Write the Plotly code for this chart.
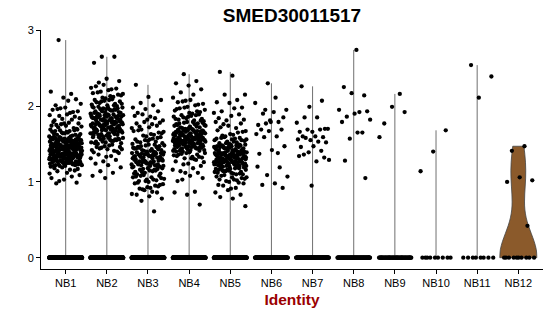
import plotly.graph_objects as go

# ---------------- data ----------------
categories = ["NB1", "NB2", "NB3", "NB4", "NB5", "NB6", "NB7", "NB8", "NB9", "NB10", "NB11", "NB12"]

# number of cells with zero expression per identity
zero_counts = [400, 350, 300, 300, 300, 150, 130, 90, 60, 9, 8, 10]

# non-zero expression values per identity
nb1 = [0.98, 0.99,
       1.03, 1.05, 1.07, 1.01, 1.09,
       1.12, 1.18, 1.15, 1.19, 1.11, 1.16, 1.14, 1.17,
       1.21, 1.26, 1.23, 1.28, 1.24, 1.29, 1.22, 1.27, 1.25, 1.20, 1.28, 1.23, 1.26, 1.29, 1.21, 1.24, 1.27, 1.22,
       1.25, 1.28, 1.26, 1.23, 1.29, 1.24, 1.21, 1.27, 1.25, 1.28, 1.22, 1.26, 1.24, 1.29, 1.27, 1.23, 1.25,
       1.31, 1.36, 1.33, 1.38, 1.35, 1.30, 1.37, 1.32, 1.39, 1.34, 1.36, 1.31, 1.38, 1.33, 1.35, 1.37, 1.30, 1.34,
       1.39, 1.32, 1.36, 1.38, 1.31, 1.35, 1.33, 1.37, 1.34, 1.39, 1.30, 1.36, 1.32, 1.38, 1.35, 1.31, 1.37, 1.33,
       1.34, 1.36, 1.39, 1.32, 1.35, 1.38, 1.30, 1.37, 1.33, 1.31, 1.36, 1.34, 1.39, 1.35, 1.32, 1.38, 1.37, 1.33,
       1.31, 1.36, 1.34, 1.35, 1.38, 1.32,
       1.41, 1.46, 1.43, 1.48, 1.45, 1.40, 1.47, 1.42, 1.49, 1.44, 1.46, 1.41, 1.48, 1.43, 1.45, 1.47, 1.40, 1.44,
       1.49, 1.42, 1.46, 1.48, 1.41, 1.45, 1.43, 1.47, 1.44, 1.49, 1.40, 1.46, 1.42, 1.48, 1.45, 1.41, 1.47, 1.43,
       1.44, 1.46, 1.49, 1.42, 1.45, 1.48, 1.40, 1.47, 1.43, 1.41, 1.46, 1.44, 1.49, 1.45, 1.42, 1.48, 1.47, 1.43,
       1.45,
       1.51, 1.56, 1.53, 1.58, 1.55, 1.50, 1.57, 1.52, 1.59, 1.54, 1.56, 1.51, 1.58, 1.53, 1.55, 1.57, 1.50, 1.54,
       1.59, 1.52, 1.56, 1.58, 1.51, 1.55, 1.53, 1.57, 1.54, 1.59, 1.52, 1.56, 1.50, 1.58, 1.55, 1.53, 1.57, 1.51,
       1.54, 1.56, 1.52, 1.55,
       1.61, 1.66, 1.63, 1.68, 1.65, 1.60, 1.67, 1.62, 1.69, 1.64, 1.66, 1.61, 1.68, 1.63, 1.65, 1.67, 1.62, 1.64,
       1.69, 1.60,
       1.72, 1.77, 1.74, 1.79, 1.71, 1.76, 1.73, 1.78, 1.75, 1.70, 1.77, 1.74,
       1.82, 1.87, 1.84, 1.89, 1.81, 1.86, 1.83, 1.88,
       1.91, 1.96, 1.93, 1.98, 1.95, 1.92, 1.97,
       2.03, 2.07, 2.01, 2.09,
       2.11, 2.19, 2.16,
       2.87]

nb2 = [1.05, 1.08,
       1.12, 1.14, 1.19,
       1.22, 1.24, 1.29, 1.27,
       1.31, 1.34, 1.36, 1.38, 1.33, 1.39,
       1.41, 1.45, 1.43, 1.48, 1.46, 1.40, 1.47, 1.42, 1.49, 1.44, 1.46, 1.43,
       1.51, 1.56, 1.53, 1.58, 1.55, 1.50, 1.57, 1.52, 1.59, 1.54, 1.56, 1.51, 1.58, 1.53, 1.55, 1.57, 1.52, 1.54,
       1.59, 1.56,
       1.61, 1.66, 1.63, 1.68, 1.65, 1.60, 1.67, 1.62, 1.69, 1.64, 1.66, 1.61, 1.68, 1.63, 1.65, 1.67, 1.60, 1.64,
       1.69, 1.62, 1.66, 1.68, 1.61, 1.65, 1.63, 1.67, 1.64, 1.69,
       1.71, 1.76, 1.73, 1.78, 1.75, 1.70, 1.77, 1.72, 1.79, 1.74, 1.76, 1.71, 1.78, 1.73, 1.75, 1.77, 1.70, 1.74,
       1.79, 1.72, 1.76, 1.78, 1.71, 1.75, 1.73, 1.77, 1.74, 1.79, 1.70, 1.76, 1.72, 1.78,
       1.81, 1.86, 1.83, 1.88, 1.85, 1.80, 1.87, 1.82, 1.89, 1.84, 1.86, 1.81, 1.88, 1.83, 1.85, 1.87, 1.80, 1.84,
       1.89, 1.82, 1.86, 1.88, 1.81, 1.85, 1.83, 1.87, 1.84, 1.89, 1.80, 1.86,
       1.91, 1.96, 1.93, 1.98, 1.95, 1.90, 1.97, 1.92, 1.99, 1.94, 1.96, 1.91, 1.98, 1.93, 1.95, 1.97, 1.90, 1.94,
       1.99, 1.92, 1.96, 1.98,
       2.01, 2.06, 2.03, 2.08, 2.05, 2.00, 2.07, 2.02, 2.09, 2.04, 2.06, 2.01, 2.08, 2.03,
       2.11, 2.16, 2.13, 2.18, 2.15, 2.10, 2.17, 2.12, 2.19, 2.14,
       2.21, 2.26, 2.23, 2.28, 2.24, 2.22,
       2.31, 2.33, 2.36,
       2.57, 2.65, 2.65]

nb3 = [0.61,
       0.75, 0.78,
       0.81, 0.83, 0.86, 0.89, 0.84, 0.87,
       0.91, 0.96, 0.93, 0.98, 0.95, 0.90, 0.97, 0.92, 0.99, 0.94,
       1.01, 1.06, 1.03, 1.08, 1.05, 1.00, 1.07, 1.02, 1.09, 1.04, 1.06, 1.01, 1.08, 1.03,
       1.11, 1.16, 1.13, 1.18, 1.15, 1.10, 1.17, 1.12, 1.19, 1.14, 1.16, 1.11, 1.18, 1.13, 1.15, 1.17,
       1.21, 1.26, 1.23, 1.28, 1.25, 1.20, 1.27, 1.22, 1.29, 1.24, 1.26, 1.21, 1.28, 1.23, 1.25, 1.27, 1.20, 1.24,
       1.29, 1.22, 1.26, 1.28, 1.21, 1.25, 1.23, 1.27,
       1.31, 1.36, 1.33, 1.38, 1.35, 1.30, 1.37, 1.32, 1.39, 1.34, 1.36, 1.31, 1.38, 1.33, 1.35, 1.37, 1.30, 1.34,
       1.39, 1.32, 1.36, 1.38, 1.31, 1.35, 1.33, 1.37, 1.34, 1.39, 1.30, 1.36,
       1.41, 1.46, 1.43, 1.48, 1.45, 1.40, 1.47, 1.42, 1.49, 1.44, 1.46, 1.41, 1.48, 1.43, 1.45, 1.47, 1.40, 1.44,
       1.49, 1.42,
       1.51, 1.56, 1.53, 1.58, 1.55, 1.50, 1.57, 1.52, 1.59, 1.54, 1.56, 1.53,
       1.61, 1.66, 1.63, 1.68, 1.65, 1.60, 1.67, 1.62, 1.69, 1.64,
       1.72, 1.77, 1.74, 1.79, 1.71, 1.76, 1.73, 1.78,
       1.82, 1.87, 1.84, 1.89, 1.81, 1.86,
       1.91, 1.93, 1.96, 1.98,
       2.01, 2.04, 2.08,
       2.12, 2.28]

nb4 = [0.70,
       0.83, 0.86, 0.87,
       1.03, 1.05, 1.08, 1.01,
       1.12, 1.12, 1.16, 1.18, 1.14,
       1.21, 1.24, 1.27, 1.29, 1.23, 1.26,
       1.31, 1.36, 1.33, 1.38, 1.35, 1.30, 1.37, 1.32, 1.39, 1.34, 1.36, 1.31, 1.38, 1.33,
       1.41, 1.46, 1.43, 1.48, 1.45, 1.40, 1.47, 1.42, 1.49, 1.44, 1.46, 1.41, 1.48, 1.43, 1.45, 1.47, 1.40, 1.44,
       1.49, 1.42, 1.46, 1.48, 1.41, 1.45, 1.43, 1.47, 1.44, 1.49, 1.40, 1.46,
       1.51, 1.56, 1.53, 1.58, 1.55, 1.50, 1.57, 1.52, 1.59, 1.54, 1.56, 1.51, 1.58, 1.53, 1.55, 1.57, 1.50, 1.54,
       1.59, 1.52, 1.56, 1.58, 1.51, 1.55, 1.53, 1.57, 1.54, 1.59, 1.52, 1.56, 1.50, 1.58, 1.55, 1.53, 1.57, 1.51,
       1.54, 1.56, 1.52, 1.55,
       1.61, 1.66, 1.63, 1.68, 1.65, 1.60, 1.67, 1.62, 1.69, 1.64, 1.66, 1.61, 1.68, 1.63, 1.65, 1.67, 1.60, 1.64,
       1.69, 1.62, 1.66, 1.68, 1.61, 1.65, 1.63, 1.67, 1.64, 1.69, 1.60, 1.66, 1.62, 1.68, 1.65, 1.63,
       1.71, 1.76, 1.73, 1.78, 1.75, 1.70, 1.77, 1.72, 1.79, 1.74, 1.76, 1.71, 1.78, 1.73, 1.75, 1.77, 1.70, 1.74,
       1.79, 1.72,
       1.81, 1.86, 1.83, 1.88, 1.85, 1.80, 1.87, 1.82, 1.89, 1.84, 1.86, 1.81, 1.88, 1.83,
       1.91, 1.96, 1.93, 1.98, 1.95, 1.90, 1.97, 1.92, 1.99, 1.94,
       2.01, 2.06, 2.03, 2.08, 2.05, 2.02, 2.07,
       2.11, 2.15, 2.18,
       2.22, 2.27,
       2.30, 2.33,
       2.42]

nb5 = [0.68, 0.78,
       0.80, 0.83, 0.89, 0.86,
       0.92, 0.95, 0.98, 0.91, 0.96, 0.99,
       1.01, 1.06, 1.03, 1.08, 1.05, 1.00, 1.07, 1.02, 1.09, 1.04, 1.06, 1.03,
       1.11, 1.16, 1.13, 1.18, 1.15, 1.10, 1.17, 1.12, 1.19, 1.14, 1.16, 1.11, 1.18, 1.13, 1.15, 1.17, 1.10, 1.14,
       1.19, 1.12, 1.16, 1.18,
       1.21, 1.26, 1.23, 1.28, 1.25, 1.20, 1.27, 1.22, 1.29, 1.24, 1.26, 1.21, 1.28, 1.23, 1.25, 1.27, 1.20, 1.24,
       1.29, 1.22, 1.26, 1.28, 1.21, 1.25, 1.23, 1.27, 1.24, 1.29, 1.20, 1.26, 1.22, 1.28, 1.25, 1.21, 1.27, 1.23,
       1.24, 1.26,
       1.31, 1.36, 1.33, 1.38, 1.35, 1.30, 1.37, 1.32, 1.39, 1.34, 1.36, 1.31, 1.38, 1.33, 1.35, 1.37, 1.30, 1.34,
       1.39, 1.32, 1.36, 1.38, 1.31, 1.35, 1.33, 1.37, 1.34, 1.39, 1.30, 1.36, 1.32, 1.38, 1.35, 1.31, 1.37, 1.33,
       1.34, 1.36, 1.39, 1.32, 1.35, 1.38,
       1.41, 1.46, 1.43, 1.48, 1.45, 1.40, 1.47, 1.42, 1.49, 1.44, 1.46, 1.41, 1.48, 1.43, 1.45, 1.47, 1.40, 1.44,
       1.49, 1.42, 1.46, 1.48, 1.41, 1.45, 1.43, 1.47, 1.44, 1.49, 1.40, 1.46,
       1.51, 1.56, 1.53, 1.58, 1.55, 1.50, 1.57, 1.52, 1.59, 1.54, 1.56, 1.51, 1.58, 1.53, 1.55, 1.57,
       1.61, 1.66, 1.63, 1.68, 1.65, 1.60, 1.67, 1.62,
       1.72, 1.77, 1.74, 1.79, 1.71, 1.76,
       1.82, 1.87, 1.84, 1.89, 1.81,
       1.91, 1.97, 1.93, 1.98,
       2.04, 2.05, 2.08,
       2.15, 2.15,
       2.40, 2.45]

nb6 = [2.30, 2.04, 2.11, 1.90, 1.85, 1.79, 1.75, 1.79, 1.77, 1.95, 1.92, 1.69, 1.69, 1.67, 1.63, 1.60,
       1.59, 1.47, 1.42, 1.37, 1.19, 1.09, 1.07, 0.98, 0.96, 0.92, 1.81, 1.20, 1.38, 1.95]
nb7 = [2.26, 2.07, 1.99, 1.78, 1.85, 1.85, 1.70, 1.66, 1.66, 1.69, 1.69, 1.70, 1.60, 1.60, 1.59, 1.55,
       1.56, 1.53, 1.58, 1.52, 1.47, 1.46, 1.41, 1.39, 1.29, 1.27, 1.36, 1.32, 0.95, 1.34]
nb8 = [2.74, 2.25, 2.14, 2.17, 1.95, 1.92, 1.86, 1.93, 1.90, 1.79, 1.65, 1.57, 1.82, 1.65, 1.28, 1.05]
nb9 = [1.77, 1.92, 1.99, 1.59, 2.16]
nb10 = [1.68, 1.40, 1.14]
nb11 = [2.54, 2.39, 2.11]
nb12 = [1.47, 1.41, 1.02, 1.06, 1.00, 0.42]

nonzero = [nb1, nb2, nb3, nb4, nb5, nb6, nb7, nb8, nb9, nb10, nb11, nb12]
violin_fill = "#8B5A2B"

# ---------------- figure ----------------
fig = go.Figure()
GOLD = 0.6180339887

# violins: NB1..NB11 collapse to a thin line (spike at zero); NB12 has a real shape
for g, cat in enumerate(categories):
    vals = [0.0] * zero_counts[g] + nonzero[g]
    if cat == "NB12":
        fig.add_trace(go.Violin(
            x=[g] * len(vals), y=vals, width=0.9, spanmode="hard", bandwidth=0.32,
            scalemode="width", points=False, fillcolor=violin_fill, opacity=1,
            line=dict(color="#444444", width=0.8), box_visible=False, meanline_visible=False,
            hoverinfo="skip", showlegend=False))
    else:
        fig.add_trace(go.Scatter(
            x=[g, g], y=[0, max(vals)], mode="lines",
            line=dict(color="#707070", width=1), hoverinfo="skip", showlegend=False))

# jittered points (deterministic jitter of +-0.4 category units)
for g, cat in enumerate(categories):
    vals = [0.0] * zero_counts[g] + nonzero[g]
    xs = [g + (((i * GOLD + g * 0.137) % 1.0) * 0.8 - 0.4) for i in range(len(vals))]
    fig.add_trace(go.Scatter(
        x=xs, y=vals, mode="markers",
        marker=dict(color="black", size=4.3, line=dict(width=0)),
        hoverinfo="skip", showlegend=False))

font_family = "Liberation Sans, Arial, Helvetica, sans-serif"
fig.update_layout(
    width=550, height=316,
    margin=dict(l=41, r=7, t=30, b=47),
    plot_bgcolor="white", paper_bgcolor="white",
    showlegend=False,
    font=dict(family=font_family, color="black"),
    title=dict(text="SMED30011517", x=(41 + 543) / 2 / 550, xanchor="center", xref="container",
               y=1 - 15.5 / 316, yanchor="middle", yref="container",
               font=dict(family=font_family, size=19, color="black", weight="bold")),
    xaxis=dict(range=[-0.6, 11.6], tickmode="array", tickvals=list(range(len(categories))),
               ticktext=categories, showline=True, linecolor="black", linewidth=1,
               ticks="outside", ticklen=4, tickcolor="black", tickwidth=1,
               showgrid=False, zeroline=False,
               tickfont=dict(size=11, color="black", family=font_family),
               title=dict(text="Identity", standoff=5,
                          font=dict(size=15.5, color="#9B0000", family=font_family, weight="bold"))),
    yaxis=dict(range=[-0.149, 3.003], tickmode="array", tickvals=[0, 1, 2, 3],
               showline=True, linecolor="black", linewidth=1,
               ticks="outside", ticklen=4, tickcolor="black", tickwidth=1,
               showgrid=False, zeroline=False,
               tickfont=dict(size=11, color="black", family=font_family)),
)

fig.write_html("out.html")
